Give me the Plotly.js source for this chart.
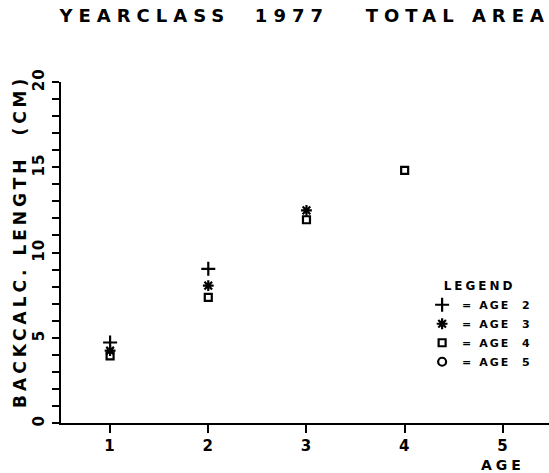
<!DOCTYPE html>
<html>
<head>
<meta charset="utf-8">
<script src="https://cdn.plot.ly/plotly-3.0.1.min.js"></script>
<style>
  html, body { margin: 0; padding: 0; background: #fff; overflow: hidden; }
  #chart { width: 549px; height: 473px; }
  .gtitle { letter-spacing: 6px; }
  .xtick text, .ytick text { letter-spacing: 1px; }
  .legendtext { letter-spacing: 2px; }
  .legendtitletext { letter-spacing: 3px; }
  .annotation-text { letter-spacing: 4px; }
</style>
</head>
<body>
<div id="chart"></div>
<script>
// Data
const ageTicks = [1, 2, 3, 4, 5];
const age2X = [1, 2];
const age2Y = [4.72, 9.04];
const age3X = [1, 2, 3];
const age3Y = [4.24, 8.06, 12.47];
const age4X = [1, 2, 3, 4];
const age4Y = [3.94, 7.37, 11.92, 14.82];
const age5X = [];
const age5Y = [];
const seriesNames = ['=\u00a0AGE\u00a0\u00a02', '=\u00a0AGE\u00a0\u00a03', '=\u00a0AGE\u00a0\u00a04', '=\u00a0AGE\u00a0\u00a05'];

const FONT = 'DejaVu Sans, sans-serif';

function series(xs, ys, name, symbol, size) {
  return {
    type: 'scatter',
    mode: 'markers',
    x: xs.length ? xs : [null],
    y: ys.length ? ys : [null],
    name: name,
    marker: {
      symbol: symbol,
      size: size,
      color: '#000',
      line: { color: '#000', width: 2.2 }
    },
    cliponaxis: false
  };
}

const traces = [
  series(age2X, age2Y, seriesNames[0], 'cross-thin-open', 10),
  series(age3X, age3Y, seriesNames[1], 'asterisk-open', 9),
  series(age4X, age4Y, seriesNames[2], 'square-open', 7),
  series(age5X, age5Y, seriesNames[3], 'circle-open', 8)
];

const layout = {
  width: 549,
  height: 473,
  margin: { l: 61, r: 0, t: 82, b: 50, pad: 0 },
  paper_bgcolor: '#fff',
  plot_bgcolor: '#fff',
  font: { family: FONT, color: '#000', size: 15 },
  showlegend: true,
  title: {
    text: 'YEARCLASS\u00a0\u00a01977\u00a0\u00a0\u00a0TOTAL\u00a0AREA',
    font: { family: FONT, size: 18, color: '#000', weight: 'bold' },
    x: 0.555, xanchor: 'center',
    y: 0.967, yanchor: 'middle', yref: 'container'
  },
  xaxis: {
    range: [0.5, 5.47],
    tickvals: ageTicks,
    ticktext: ageTicks.map(String),
    ticks: 'outside', ticklen: 8, tickwidth: 2, tickcolor: '#000',
    showline: true, linecolor: '#000', linewidth: 2,
    showgrid: false, zeroline: false,
    tickfont: { family: FONT, size: 15, color: '#000', weight: 'bold' },
    ticklabelstandoff: 0
  },
  yaxis: {
    range: [0, 20],
    tickvals: [0, 5, 10, 15, 20],
    ticks: 'outside', ticklen: 7, tickwidth: 2, tickcolor: '#000',
    minor: { dtick: 1, ticks: 'outside', ticklen: 7, tickwidth: 2, tickcolor: '#000', showgrid: false },
    showline: true, linecolor: '#000', linewidth: 2,
    showgrid: false, zeroline: false,
    tickangle: -90,
    tickfont: { family: FONT, size: 15, color: '#000', weight: 'bold' },
    ticklabelstandoff: 2
  },
  legend: {
    x: 0.74, xanchor: 'left',
    y: 0.435, yanchor: 'top',
    bgcolor: 'rgba(0,0,0,0)',
    borderwidth: 0,
    font: { family: FONT, size: 11, color: '#000', weight: 'bold' },
    title: { text: 'LEGEND', side: 'top center', font: { family: FONT, size: 12, color: '#000', weight: 'bold' } },
    itemclick: false, itemdoubleclick: false
  },
  annotations: [
    {
      text: 'BACKCALC.\u00a0LENGTH\u00a0\u00a0(CM)',
      xref: 'paper', yref: 'paper',
      x: 0, xshift: -41, y: 0.531,
      xanchor: 'center', yanchor: 'middle',
      textangle: -90,
      showarrow: false,
      font: { family: FONT, size: 17, color: '#000', weight: 'bold' }
    },
    {
      text: 'AGE',
      xref: 'x', yref: 'paper',
      x: 5, y: 0,
      yshift: -42,
      xanchor: 'center', yanchor: 'middle',
      showarrow: false,
      font: { family: FONT, size: 14, color: '#000', weight: 'bold' }
    }
  ]
};

Plotly.newPlot('chart', traces, layout, { staticPlot: true, displayModeBar: false });
</script>
</body>
</html>
